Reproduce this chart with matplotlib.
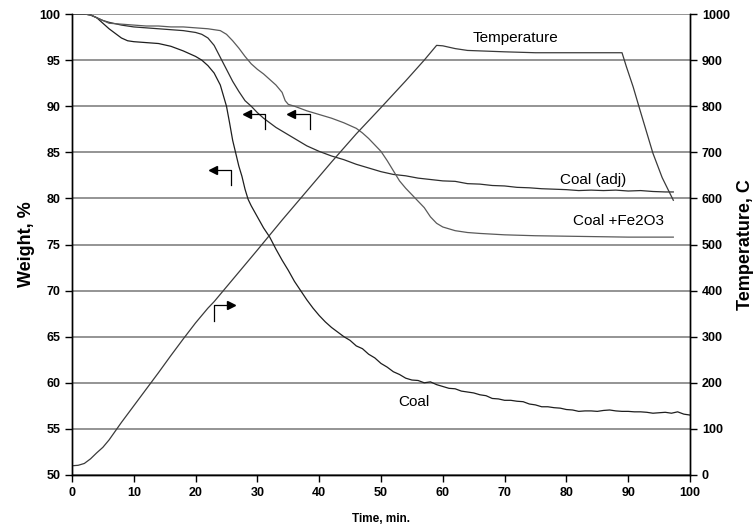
import matplotlib.pyplot as plt

plt.rcParams['font.family'] = ['Liberation Sans', 'DejaVu Sans']

# weight curves (time in min, weight in %)
coal_t = [0, 2, 3, 4, 5, 6, 7, 8, 9, 10, 12, 14, 16, 18, 19, 20, 21, 22, 23, 24,
          25, 25.5, 26, 26.5, 27, 27.5, 28, 28.5, 29, 30, 31, 32, 33, 34, 35, 36,
          37, 38, 39, 40, 41, 42, 43, 44, 45, 46, 47, 48, 49, 50, 51, 52, 53, 54,
          55, 56, 57, 58, 59, 60, 61, 62, 63, 64, 65, 66, 67, 68, 69, 70, 71, 72,
          73, 74, 75, 76, 77, 78, 79, 80, 81, 82, 83, 84, 85, 86, 87, 88, 89, 90,
          91, 92, 93, 94, 95, 96, 97, 98, 99, 100]
coal_w = [100, 100, 99.9, 99.6, 99.0, 98.4, 97.9, 97.4, 97.1, 97.0, 96.9, 96.8,
          96.5, 96.0, 95.7, 95.4, 95.0, 94.4, 93.6, 92.3, 90.0, 88.2, 86.3, 84.9,
          83.5, 82.4, 81.0, 79.9, 79.2, 78.0, 76.8, 75.8, 74.5, 73.3, 72.2, 71.0,
          70.0, 69.0, 68.1, 67.3, 66.6, 66.0, 65.5, 65.0, 64.6, 64.0, 63.7, 63.1,
          62.7, 62.1, 61.7, 61.2, 60.9, 60.5, 60.3, 60.25, 60.0, 60.1, 59.8, 59.6,
          59.4, 59.35, 59.1, 59.0, 58.9, 58.7, 58.6, 58.3, 58.25, 58.1, 58.1, 58.0,
          57.95, 57.7, 57.6, 57.4, 57.4, 57.3, 57.25, 57.1, 57.05, 56.9, 56.95,
          56.95, 56.9, 57.0, 57.05, 56.95, 56.9, 56.9, 56.85, 56.85, 56.8, 56.7,
          56.75, 56.8, 56.7, 56.85, 56.6, 56.5]

adj_t = [0, 2, 3, 4, 5, 6, 8, 10, 12, 14, 16, 18, 20, 21, 22, 23, 24, 25, 26, 27,
         28, 29, 30, 31, 32, 33, 34, 35, 36, 37, 38, 39, 40, 42, 44, 46, 48, 50,
         52, 54, 56, 58, 60, 62, 64, 66, 68, 70, 72, 74, 76, 78, 80, 82, 84, 86,
         88, 90, 92, 94, 96, 97.3]
adj_w = [100, 100, 99.9, 99.6, 99.3, 99.1, 98.8, 98.6, 98.5, 98.4, 98.3, 98.2,
         98.0, 97.8, 97.4, 96.6, 95.3, 94.0, 92.7, 91.6, 90.6, 90.0, 89.3, 88.7,
         88.2, 87.7, 87.3, 86.9, 86.5, 86.1, 85.7, 85.4, 85.1, 84.6, 84.2, 83.7,
         83.3, 82.9, 82.6, 82.45, 82.2, 82.05, 81.9, 81.85, 81.6, 81.55, 81.4,
         81.35, 81.2, 81.15, 81.05, 81.0, 80.95, 80.85, 80.9, 80.85, 80.9, 80.8,
         80.85, 80.75, 80.7, 80.7]

fe_t = [0, 2, 3, 4, 5, 6, 8, 10, 12, 14, 16, 18, 20, 22, 23, 24, 25, 26, 27, 28,
        29, 30, 31, 32, 33, 34, 34.5, 35, 36, 38, 40, 42, 44, 46, 47, 48, 49, 50,
        51, 52, 53, 54, 55, 56, 57, 58, 59, 60, 62, 64, 66, 70, 75, 80, 85, 90,
        97.3]
fe_w = [100, 100, 99.9, 99.6, 99.3, 99.0, 98.9, 98.8, 98.7, 98.7, 98.6, 98.6,
        98.5, 98.4, 98.3, 98.2, 97.8, 97.1, 96.3, 95.4, 94.6, 94.0, 93.5, 92.9,
        92.3, 91.5, 90.6, 90.2, 90.0, 89.5, 89.1, 88.7, 88.2, 87.6, 87.1, 86.5,
        85.8, 85.1, 84.1, 83.0, 81.9, 81.1, 80.4, 79.7, 79.0, 78.0, 77.3, 76.9,
        76.5, 76.3, 76.2, 76.05, 75.95, 75.9, 75.85, 75.8, 75.8]

# furnace temperature, C
temp_t = [0, 1, 2, 3, 4, 5, 6, 7, 8, 9, 10, 12, 14, 16, 18, 20, 22, 23, 26, 30,
          34, 38, 42, 46, 50, 54, 57, 59, 60, 62, 64, 66, 70, 75, 80, 85, 89,
          89.7, 90.8, 91.9, 94, 95.5, 97.3]
temp_c = [20, 21, 25, 35, 48, 60, 76, 95, 114, 132, 150, 186, 222, 259, 295, 330,
          362, 376, 424, 488, 553, 616, 679, 740, 797, 855, 900, 932, 931, 925,
          921, 920, 918, 916, 916, 916, 916, 886, 842, 792, 698, 645, 596]

fig = plt.figure(figsize=(7.56, 5.27), dpi=100)
ax1 = fig.add_axes([0.0952, 0.0987, 0.8175, 0.8747])
ax2 = ax1.twinx()

ax1.set_xlim(0, 100)
ax1.set_ylim(50, 100)
ax2.set_ylim(0, 1000)
ax1.set_xticks(range(0, 101, 10))
ax1.set_yticks(range(50, 101, 5))
ax2.set_yticks(range(0, 1001, 100))

ax1.yaxis.grid(True, color='#777777', linewidth=1.1)
ax1.set_axisbelow(True)

ax1.plot(coal_t, coal_w, color='#1e1e1e', linewidth=0.9)
ax1.plot(adj_t, adj_w, color='#2e2e2e', linewidth=0.9)
ax1.plot(fe_t, fe_w, color='#5a5a5a', linewidth=0.9)
ax2.plot(temp_t, temp_c, color='#3a3a3a', linewidth=0.9)

# little "which axis" arrows
for x0, x1, y0, y1 in [(22.8, 25.8, 83.1, 81.45), (28.3, 31.2, 89.2, 87.5),
                       (35.5, 38.5, 89.2, 87.5)]:
    ax1.plot([x0, x1, x1], [y0, y0, y1], color='black', linewidth=0.9)
    ax1.plot(x0, y0, marker='<', color='black', markersize=6)
ax1.plot([22.9, 22.9, 25.8], [66.7, 68.45, 68.45], color='black', linewidth=0.9)
ax1.plot(25.8, 68.45, marker='>', color='black', markersize=6)

ax1.text(55.3, 57.95, 'Coal', fontsize=11, ha='center', va='center')
ax1.text(84.3, 82.0, 'Coal (adj)', fontsize=11, ha='center', va='center')
ax1.text(88.5, 77.5, 'Coal +Fe2O3', fontsize=11, ha='center', va='center')
ax2.text(71.7, 948, 'Temperature', fontsize=11, ha='center', va='center')

for ax in (ax1, ax2):
    ax.spines['top'].set_visible(False)
    for s in ('left', 'right', 'bottom'):
        ax.spines[s].set_linewidth(1.0)
        ax.spines[s].set_color('black')
    ax.tick_params(direction='out', length=5, width=1, labelsize=9)
    for lab in ax.get_xticklabels() + ax.get_yticklabels():
        lab.set_fontweight('bold')

ax1.set_ylabel('Weight, %', fontsize=13, fontweight='bold', labelpad=3)
ax2.set_ylabel('Temperature, C', fontsize=13, fontweight='bold', labelpad=5)
ax1.set_xlabel('Time, min.', fontsize=8.5, fontweight='bold', labelpad=10)

fig.savefig('out.png', dpi=100)
